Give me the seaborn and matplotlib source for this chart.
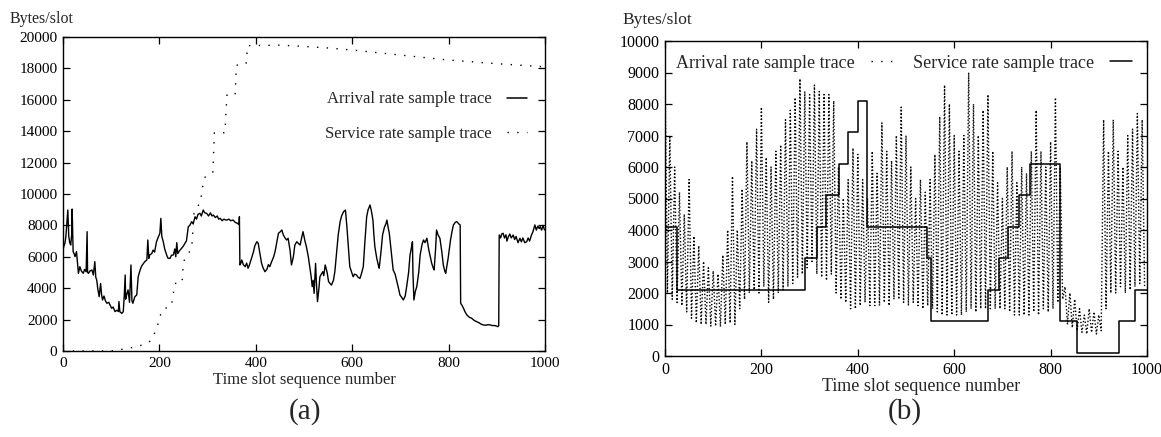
import matplotlib
matplotlib.use("Agg")
import pandas as pd
import matplotlib.pyplot as plt
from matplotlib.lines import Line2D
import seaborn as sns

# ---- (a) arrival rate trace (slot, bytes/slot)
arr_a_slot = [0, 2, 4, 6, 8, 10, 12, 14, 16, 18, 19, 21, 23, 25, 28, 30, 32, 35, 38, 42,
              45, 48, 50, 51, 53, 56, 60, 63, 66, 68, 70, 72, 75, 78, 80, 82, 85, 88, 91, 95,
              98, 101, 104, 108, 112, 115, 116, 118, 122, 125, 127, 129, 130, 132, 135, 138, 141, 143, 145, 149,
              153, 156, 160, 163, 167, 170, 174, 176, 178, 180, 184, 187, 190, 194, 197, 201, 203, 205, 208, 211,
              215, 218, 222, 225, 229, 232, 234, 236, 238, 242, 246, 250, 253, 256, 260, 263, 267, 270, 274, 277,
              280, 284, 287, 291, 294, 298, 302, 306, 309, 312, 316, 320, 323, 326, 330, 334, 337, 340, 344, 348,
              353, 357, 362, 365, 366, 367, 369, 371, 374, 378, 381, 384, 387, 391, 395, 398, 402, 405, 408, 412,
              415, 419, 423, 426, 429, 433, 437, 440, 444, 447, 451, 454, 457, 461, 464, 467, 471, 474, 478, 481,
              485, 488, 492, 495, 498, 502, 505, 509, 512, 515, 517, 519, 521, 524, 526, 528, 531, 533, 536, 539,
              541, 544, 548, 551, 554, 557, 561, 564, 568, 571, 575, 578, 582, 586, 589, 592, 595, 599, 602, 605,
              609, 612, 616, 619, 623, 626, 630, 633, 637, 640, 643, 645, 647, 651, 654, 656, 660, 663, 667, 670,
              672, 675, 677, 681, 685, 689, 692, 696, 699, 703, 706, 710, 713, 717, 720, 723, 725, 726, 728, 731,
              734, 738, 741, 745, 748, 751, 755, 759, 762, 765, 768, 770, 773, 775, 778, 782, 786, 789, 792, 794,
              797, 799, 802, 804, 807, 810, 814, 817, 821, 824, 825, 828, 831, 834, 838, 843, 848, 853, 858, 863,
              868, 872, 877, 882, 886, 891, 896, 900, 902, 904, 905, 908, 910, 913, 916, 919, 921, 924, 927, 930,
              934, 937, 940, 944, 948, 951, 954, 958, 962, 965, 968, 972, 975, 979, 982, 985, 988, 990, 993, 996,
              999]
arr_a_val = [6430, 6700, 6860, 7300, 8150, 8980, 7280, 6900, 6750, 7400, 9040, 6330, 6200, 6010, 6330, 5600, 4950, 5370, 5100, 4950,
             5200, 5050, 7600, 5000, 4950, 5100, 5160, 4840, 5690, 4700, 4520, 4000, 3460, 4300, 3600, 3250, 3500, 3200, 3040, 3100,
             2900, 2720, 2800, 2510, 2600, 2510, 3150, 2500, 2400, 2500, 3460, 4840, 3300, 3570, 3890, 3100, 5480, 3200, 3040, 3460,
             3570, 4730, 5160, 5400, 5580, 5700, 5800, 7070, 5900, 6120, 6200, 6430, 6300, 6960, 7200, 7500, 8450, 7300, 6960, 6500,
             6120, 5900, 5900, 6100, 6120, 6500, 6000, 6900, 6200, 6400, 6540, 6700, 6860, 7000, 7920, 8000, 8240, 8100, 8550, 8400,
             8700, 8770, 8600, 8980, 8800, 8770, 8600, 8800, 8600, 8660, 8500, 8600, 8400, 8450, 8300, 8400, 8350, 8340, 8400, 8300,
             8340, 8200, 8130, 8050, 8550, 5480, 5600, 5800, 5500, 5370, 5600, 5270, 5500, 5900, 6300, 6700, 6960, 6860, 6300, 5580,
             5300, 5050, 5200, 5500, 5370, 5700, 6000, 6330, 7000, 7500, 7600, 7710, 7400, 7180, 7070, 7180, 6430, 5480, 6010, 6750,
             6960, 6860, 6750, 7200, 7600, 7000, 6640, 6000, 5370, 4700, 4100, 4500, 3670, 5580, 4200, 3150, 4000, 4730, 4900, 5050,
             4800, 5480, 5000, 4420, 4300, 4200, 4500, 5050, 6430, 7400, 8240, 8600, 8870, 8980, 7920, 6600, 5370, 5000, 4730, 4900,
             4840, 4700, 4620, 4900, 5370, 6800, 8550, 9000, 9300, 8900, 8340, 7400, 6640, 5900, 5500, 5270, 6400, 7390, 7900, 8100,
             8340, 7800, 7500, 6300, 5160, 4900, 4520, 4000, 3570, 3400, 3250, 3500, 4100, 5000, 6120, 6600, 6960, 5000, 3250, 3800,
             4100, 5000, 6120, 6800, 7070, 6900, 7180, 6430, 6000, 5580, 5300, 5160, 6500, 7710, 7400, 7180, 6300, 5480, 5100, 4950,
             5500, 5900, 6600, 7070, 7600, 8030, 8200, 8240, 8100, 8030, 3040, 2900, 2720, 2500, 2290, 2150, 2080, 1950, 1870, 1800,
             1700, 1660, 1640, 1680, 1660, 1620, 1620, 1580, 1550, 1600, 7390, 7200, 7450, 7500, 7200, 7400, 7000, 7280, 7450, 7200,
             7390, 7100, 7300, 6900, 7180, 6950, 7200, 6900, 6960, 7200, 7000, 7390, 7600, 8030, 7700, 7950, 7800, 7920, 7700, 8000,
             7710]

# ---- (a) service rate trace
svc_a_slot = [0, 100, 112, 130, 150, 160, 175, 184, 195, 205, 215, 225, 232, 247, 250, 262, 267, 272, 285, 291,
              295, 301, 311, 314, 336, 340, 357, 360, 380, 383, 450, 500, 550, 600, 700, 797, 900, 1000]
svc_a_val = [0, 0, 50, 150, 250, 340, 500, 700, 1500, 2600, 2750, 2870, 4300, 4350, 5700, 6300, 6560, 8800, 9500, 10700,
             11080, 11300, 11400, 13900, 13900, 16300, 16300, 18200, 18300, 19450, 19480, 19400, 19300, 19170, 18850, 18540, 18300, 18100]

# ---- (b) arrival rate: per-cycle peaks and troughs (every 10 slots)
arr_b_peak = [9000, 7000, 6000, 5200, 4500, 5600, 3800, 3500, 3000, 2800,
              2700, 2600, 3200, 4000, 5700, 4000, 5300, 6800, 6200, 7200,
              7900, 6300, 6000, 6500, 6700, 7500, 7800, 8200, 8800, 8400,
              8300, 8600, 8400, 8300, 8300, 8100, 6000, 5000, 5600, 6600,
              6400, 5600, 5000, 6500, 5800, 7400, 6500, 6200, 7000, 7900,
              7000, 6000, 5000, 5600, 5200, 5600, 6400, 7600, 8600, 8000,
              7000, 6500, 7000, 9000, 8000, 7000, 7800, 8300, 6500, 5500,
              5000, 6000, 6500, 5500, 6000, 5800, 6500, 7800, 6500, 6000,
              6800, 8200, 6000, 2200, 2000, 1800, 1500, 1300, 1500, 1400,
              1300, 7500, 6500, 7500, 6500, 6000, 7000, 7200, 7700, 7500]
arr_b_trough = [2000, 1800, 1700, 1600, 1400, 1200, 1050, 1000, 1000, 950,
                950, 930, 1000, 1050, 1000, 1500, 1800, 2000, 2100, 2000,
                2200, 1700, 1800, 2000, 2100, 2200, 2300, 2500, 2600, 2800,
                3000, 2600, 2500, 2400, 2600, 2000, 1800, 1700, 1500, 1500,
                1600, 1700, 1600, 1600, 1600, 1700, 1600, 1800, 1800, 1700,
                1600, 1700, 1600, 1500, 1600, 1500, 1400, 1300, 1300, 1300,
                1300, 1300, 1400, 1500, 1400, 1500, 1500, 1500, 1500, 1500,
                1500, 1400, 1300, 1300, 1300, 1300, 1400, 1300, 1500, 1400,
                1500, 1700, 1800, 1000, 900, 800, 750, 700, 750, 700,
                800, 1500, 2000, 2000, 2200, 2000, 2100, 2200, 2300, 2200]

# ---- (b) service rate: staircase (slot where level starts, level)
svc_b_slot = [0, 24, 290, 315, 335, 360, 380, 401, 420, 543, 552, 671, 692, 712, 735, 757,
              820, 854, 942, 975, 1000]
svc_b_val = [4100, 2100, 3100, 4100, 5100, 6100, 7100, 8100, 4100, 3100, 1100, 2100, 3100, 4100, 5100, 6100,
             1100, 100, 1100, 2100, 2100]

sns.set_theme(style="ticks")
plt.rcParams['font.family'] = ['Liberation Serif', 'DejaVu Serif']

fig = plt.figure(figsize=(11.61, 4.37), dpi=100)
ax1 = fig.add_axes([63 / 1161, 86 / 437, 482 / 1161, 314 / 437])
ax2 = fig.add_axes([665 / 1161, 81 / 437, 482 / 1161, 315 / 437])

# panel (a)
df_a1 = pd.DataFrame({"slot": arr_a_slot, "rate": arr_a_val})
df_a2 = pd.DataFrame({"slot": svc_a_slot, "rate": svc_a_val})
sns.lineplot(data=df_a1, x="slot", y="rate", ax=ax1, color="black", lw=1.0,
             estimator=None, sort=False)
sns.lineplot(data=df_a2, x="slot", y="rate", ax=ax1, color="black", lw=1.0,
             linestyle=(0, (1, 6)), estimator=None, sort=False)

# panel (b): arrival zig-zag between read peaks and troughs
b_slot, b_val = [], []
for i, (p, t) in enumerate(zip(arr_b_peak, arr_b_trough)):
    b_slot += [10 * i, 10 * i + 5]
    b_val += [p, t]
df_b1 = pd.DataFrame({"slot": b_slot, "rate": b_val})
df_b2 = pd.DataFrame({"slot": svc_b_slot, "rate": svc_b_val})
sns.lineplot(data=df_b1, x="slot", y="rate", ax=ax2, color="black", lw=1.0,
             linestyle=(0, (1, 1.5)), estimator=None, sort=False)
sns.lineplot(data=df_b2, x="slot", y="rate", ax=ax2, color="black", lw=1.1,
             drawstyle="steps-post", estimator=None, sort=False)

for ax, ymax, ystep, fs in [(ax1, 20000, 2000, 11), (ax2, 10000, 1000, 11.5)]:
    ax.set_xlim(0, 1000)
    ax.set_ylim(0, ymax)
    ax.set_xticks(range(0, 1001, 200))
    ax.set_yticks(range(0, ymax + 1, ystep))
    ax.tick_params(direction="in", top=True, right=True, length=5, width=0.9,
                   labelsize=fs, pad=4, colors="black")
    for s in ax.spines.values():
        s.set_linewidth(1.0)
        s.set_color("black")
    ax.set_ylabel("")

ax1.set_xlabel("Time slot sequence number", fontsize=12)
ax1.xaxis.set_label_coords(0.5, -0.068)
ax2.set_xlabel("Time slot sequence number", fontsize=13)
ax2.xaxis.set_label_coords(0.531, -0.07)

ax1.text(-0.11, 1.057, "Bytes/slot", transform=ax1.transAxes, fontsize=11.5, va="center")
ax2.text(-0.089, 1.067, "Bytes/slot", transform=ax2.transAxes, fontsize=12.5, va="center")

solid = Line2D([], [], color="black", lw=1.1)
dotted = Line2D([], [], color="black", lw=1.0, linestyle=(0, (1, 6)))

ax1.legend([solid, dotted], ["Arrival rate sample trace", "Service rate sample trace"],
           loc="upper right", bbox_to_anchor=(0.98, 0.853), frameon=False,
           markerfirst=False, fontsize=12, handlelength=1.2, handletextpad=0.9,
           labelspacing=1.1, borderpad=0)
ax2.legend([dotted, solid], ["Arrival rate sample trace", "Service rate sample trace"],
           loc="upper left", bbox_to_anchor=(0.005, 0.985), frameon=False, ncol=2,
           markerfirst=False, fontsize=13, handlelength=1.2, handletextpad=0.9,
           columnspacing=1.1, borderpad=0)

fig.text(305 / 1161, 1 - 412 / 437, "(a)", fontsize=21, ha="center", va="center")
fig.text(905 / 1161, 1 - 412 / 437, "(b)", fontsize=21, ha="center", va="center")

fig.savefig("out.png", dpi=100)
